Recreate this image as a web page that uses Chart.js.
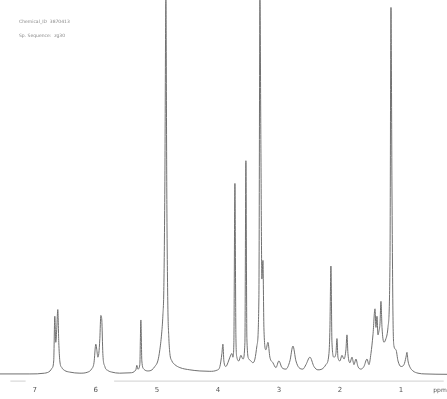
<!DOCTYPE html>
<html>
<head>
<meta charset="utf-8">
<script src="https://cdn.jsdelivr.net/npm/chart.js@4/dist/chart.umd.min.js"></script>
<style>
html,body{margin:0;padding:0;background:#fff;}
#wrap{width:447px;height:399px;position:relative;}
</style>
</head>
<body>
<div id="wrap"><canvas id="c"></canvas></div>
<script>
// chemical shift (ppm) and relative intensity
const ppm = [
 7.57, 7.08, 6.84, 6.75, 6.72, 6.69, 6.672, 6.656, 6.639, 6.623, 6.607, 6.59, 6.557, 6.508, 6.43, 6.26,
 6.13, 6.07, 6.03, 6.00, 5.984, 5.967, 5.951, 5.934, 5.918, 5.902, 5.885, 5.852, 5.80, 5.74, 5.61, 5.44,
 5.344, 5.328, 5.311, 5.279, 5.262, 5.246, 5.213, 5.148, 5.08, 5.033, 4.984, 4.951, 4.918, 4.902, 4.885,
 4.869, 4.852, 4.836, 4.820, 4.803, 4.787, 4.754, 4.705, 4.623, 4.459, 4.295, 4.131, 4.016, 3.967, 3.934,
 3.918, 3.902, 3.869, 3.836, 3.803, 3.770, 3.754, 3.738, 3.721, 3.705, 3.689, 3.656, 3.623, 3.590, 3.557,
 3.541, 3.525, 3.492, 3.459, 3.426, 3.393, 3.361, 3.328, 3.311, 3.295, 3.279, 3.262, 3.246, 3.213, 3.180,
 3.148, 3.098, 3.049, 3.000, 2.951, 2.885, 2.820, 2.770, 2.721, 2.672, 2.607, 2.557, 2.492, 2.426, 2.361,
 2.295, 2.230, 2.180, 2.164, 2.148, 2.131, 2.098, 2.066, 2.049, 2.033, 2.000, 1.967, 1.934, 1.902, 1.885,
 1.869, 1.836, 1.803, 1.770, 1.738, 1.705, 1.656, 1.607, 1.557, 1.525, 1.492, 1.459, 1.426, 1.410, 1.393,
 1.377, 1.361, 1.344, 1.328, 1.311, 1.279, 1.246, 1.213, 1.180, 1.164, 1.148, 1.131, 1.115, 1.082, 1.049,
 1.000, 0.951, 0.918, 0.902, 0.885, 0.852, 0.803, 0.721, 0.607, 0.246
];
const intensity = [
 -0.5, -0.5, -0.3, 0.3, 1.0, 3, 15, 8, 12, 16.8, 8, 3, 1.2, 0.4, 0, -0.3,
 0, 0.8, 2.5, 7.5, 6, 4, 5, 9, 15.2, 14, 5, 1.5, 0.4, 0, -0.3, -0.2,
 0.6, 1.8, 0.8, 2, 14, 3, 0.8, 0.3, 0.6, 1.5, 3, 6, 11, 15, 23,
 50, 100, 45, 18, 9, 5, 3, 2, 1.2, 0.6, 0.3, 0.2, 0.5, 1.5, 5,
 7.5, 3, 1.5, 2.5, 4, 5, 4, 8, 50.7, 10, 4, 3, 4.5, 3.5, 8,
 56.8, 9, 3.5, 3, 2.5, 3.5, 7, 20, 100, 60, 25, 30, 12, 6, 8,
 4, 2.5, 1.2, 3, 1.2, 0.8, 3, 7, 3, 1.2, 0.8, 2, 4, 1.5, 0.6,
 0.8, 2, 5, 12, 28.5, 8, 4, 5, 9, 4, 3, 4.5, 3.5, 6, 10,
 5, 2.5, 4, 2, 3.5, 1.5, 0.8, 1.5, 3.5, 2, 5, 10, 17, 12, 15,
 10, 11, 13, 19, 12, 8, 9, 12, 30, 98, 50, 15, 7, 6, 3,
 1.5, 2, 4, 5.3, 3, 1.3, 0.3, -0.3, -0.5, -0.6
];
const tickValues = [1, 2, 3, 4, 5, 6, 7];
const headerLines = ["Chemical_ID  3870413", "Sp. Sequence:  zg30"];
const unitLabel = "ppm";

const points = ppm.map((p, i) => ({x: p, y: intensity[i]}));

const overlay = {
  id: 'overlay',
  afterDraw(chart) {
    const ctx = chart.ctx;
    const xs = chart.scales.x;
    const area = chart.chartArea;
    ctx.save();
    // faint axis rule
    ctx.strokeStyle = '#d0d0d0';
    ctx.lineWidth = 1;
    ctx.beginPath();
    ctx.moveTo(xs.getPixelForValue(5.70), area.bottom - 1.5);
    ctx.lineTo(xs.getPixelForValue(0.30), area.bottom - 1.5);
    ctx.moveTo(xs.getPixelForValue(7.40), area.bottom - 1.5);
    ctx.lineTo(xs.getPixelForValue(7.15), area.bottom - 1.5);
    ctx.stroke();
    // unit label
    ctx.fillStyle = '#555';
    ctx.font = '6px "DejaVu Sans"';
    ctx.textAlign = 'center';
    ctx.textBaseline = 'middle';
    ctx.fillText(unitLabel, xs.getPixelForValue(0.36), area.bottom + 7.5);
    // header text
    ctx.fillStyle = '#888';
    ctx.font = '4.5px "DejaVu Sans"';
    ctx.textAlign = 'left';
    ctx.fillText(headerLines[0], area.left + 19, 22);
    ctx.fillText(headerLines[1], area.left + 19, 36);
    ctx.restore();
  }
};

new Chart(document.getElementById('c'), {
  type: 'line',
  data: {
    datasets: [{
      data: points,
      borderColor: '#707070',
      borderWidth: 1,
      pointRadius: 0,
      fill: false,
      cubicInterpolationMode: 'monotone'
    }]
  },
  options: {
    responsive: true,
    maintainAspectRatio: false,
    animation: false,
    layout: {padding: {left: 0, right: 0, top: 0, bottom: 2}},
    plugins: {legend: {display: false}, tooltip: {enabled: false}},
    scales: {
      x: {
        type: 'linear',
        reverse: true,
        min: 0.246,
        max: 7.57,
        afterBuildTicks: (axis) => { axis.ticks = tickValues.map(v => ({value: v})); },
        ticks: {
          color: '#555',
          font: {size: 7, family: 'DejaVu Sans'},
          padding: 3,
          maxRotation: 0,
          callback: (v) => String(v)
        },
        grid: {display: false, drawTicks: false},
        border: {display: false}
      },
      y: {
        display: false,
        min: -2.83,
        max: 100
      }
    }
  },
  plugins: [overlay]
});
</script>
</body>
</html>
